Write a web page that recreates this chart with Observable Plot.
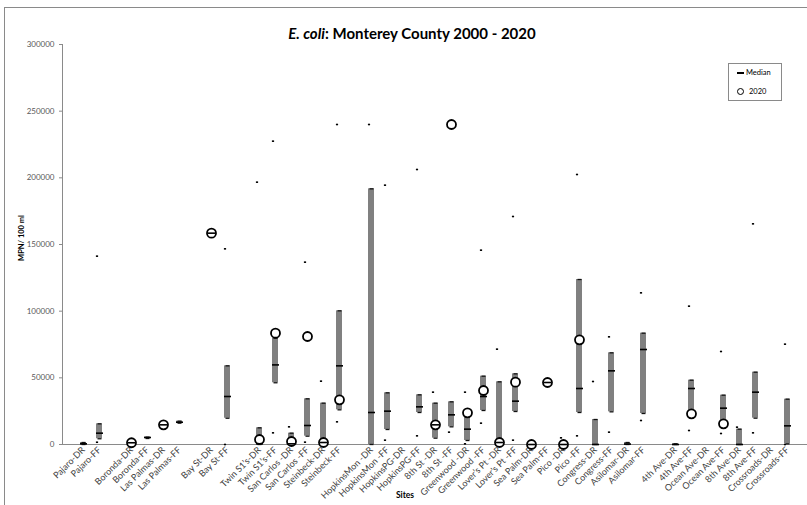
<!DOCTYPE html>
<html><head><meta charset="utf-8">
<script src="https://cdn.jsdelivr.net/npm/d3@7"></script>
<script src="https://cdn.jsdelivr.net/npm/@observablehq/plot@0.6"></script>
<style>
body{margin:0;background:#fff;overflow:hidden;font-family:Lato,"DejaVu Sans",sans-serif}
#wrap{position:relative;width:807px;height:505px;overflow:hidden}
#border{position:absolute;left:4px;top:7px;width:900px;height:600px;border:1px solid #8a8a8a;box-sizing:border-box}
#chart{position:absolute;left:0;top:0}
#title{position:absolute;top:24px;left:412px;transform:translateX(-50%);font-weight:bold;font-size:15px;white-space:nowrap;color:#000}
#ytitle{position:absolute;left:21px;top:238px;transform:translate(-50%,-50%) rotate(-90deg);font-weight:bold;font-size:7.5px;white-space:nowrap;color:#000}
#xtitle{position:absolute;left:405px;top:495px;transform:translate(-50%,-50%);font-weight:bold;font-size:8.5px;color:#000}
#legend{position:absolute;left:728px;top:63px;width:54px;height:38px;border:1px solid #8a8a8a;box-sizing:border-box;background:#fff;font-size:7.5px;color:#000}
#legend .row{position:absolute;left:0;height:10px;line-height:10px;white-space:nowrap}
#legend .dash{position:absolute;left:8px;top:4px;width:7px;height:2px;background:#000}
#legend .circ{position:absolute;left:8px;top:1px;width:5px;height:5px;border:1.6px solid #000;border-radius:50%;background:#fff}
#legend .lab{position:absolute;left:17px;top:0}
svg text{fill:#404040}
</style></head>
<body><div id="wrap">
<div id="border"></div>
<div id="chart"></div>
<div id="title"><i>E. coli</i>: Monterey County 2000 - 2020</div>
<div id="ytitle">MPN/ 100 ml</div>
<div id="xtitle">Sites</div>
<div id="legend">
  <div class="row" style="top:4px"><div class="dash"></div><div class="lab">Median</div></div>
  <div class="row" style="top:23px"><div class="circ"></div><div class="lab" style="left:20px">2020</div></div>
</div>
</div>
<script>
const sites = ["Pajaro-DR","Pajaro-FF","","Boronda-DR","Boronda-FF","Las Palmas-DR","Las Palmas-FF","","Bay St-DR","Bay St-FF","","Twin S1’s-DR","Twin S1’s-FF","San Carlos -DR","San Carlos -FF","Steinbeck-DR","Steinbeck-FF","","HopkinsMon -DR","HopkinsMon -FF","HopkinsPG-DR","HopkinsPG-FF","8th St -DR","8th St -FF","Greenwood -DR","Greenwood -FF","Lover’s Pt -DR","Lover’s Pt -FF","Sea Palm-DR","Sea Palm-FF","Pico -DR","Pico -FF","Congress-DR","Congress-FF","Asilomar-DR","Asilomar-FF","","4th Ave-DR","4th Ave-FF","Ocean Ave-DR","Ocean Ave-FF","8th Ave-DR","8th Ave-FF","Crossroads-DR","Crossroads-FF"];
const q1 = [0,4300,null,null,4500,null,16000,null,null,19700,null,0,46300,0,6250,0,26000,null,0,11250,null,24000,4750,13250,3000,25500,0,24750,null,null,null,24000,0,24500,0,23250,null,0,22500,null,16750,0,19750,null,500];
const q3 = [1500,15500,null,null,5500,null,17500,null,null,59000,null,12500,79700,8500,34250,31000,100250,null,191750,38750,null,37250,31000,32000,24000,51250,47000,53000,null,null,null,123750,18750,68750,1500,83500,null,500,48250,null,37000,11500,54250,null,34000];
const median = [500,8500,null,1300,5250,14750,16700,null,158500,36000,null,500,59700,500,14250,1500,59000,null,24000,25000,null,28250,14750,22250,11500,36000,1500,32500,0,46500,0,42000,0,55250,300,71250,null,0,42000,null,27250,0,39250,null,14000];
const low = [null,1700,null,null,null,null,null,null,null,0,null,null,8750,null,1750,null,17000,null,null,3250,null,6500,null,9250,500,16000,null,3250,null,null,null,6500,null,9250,null,18000,null,null,10500,null,8250,null,8750,null,0];
const high = [null,141250,null,null,null,null,null,null,null,146750,null,196750,227500,13250,136750,47500,240000,null,240000,194500,null,206250,39250,240000,39250,145750,71500,171000,null,null,5000,202500,47250,80750,null,113750,null,null,103750,null,69750,13000,165500,null,75250];
const y2020 = [null,null,null,1300,null,14750,null,null,158500,null,null,3750,83500,2250,81000,1500,33500,null,null,null,null,null,14750,240000,23750,40500,1500,46750,0,46500,0,78500,null,null,null,null,null,null,23000,null,15500,null,null,null,null];
const yTicks = [0,50000,100000,150000,200000,250000,300000];

const rows = sites.map((s,i)=>({i, q1:q1[i], q3:q3[i], med:median[i], lo:low[i], hi:high[i], c:y2020[i]}));
const hline = w => ({draw(ctx){ ctx.moveTo(-w/2,0); ctx.lineTo(w/2,0); }});
const hasBar = rows.filter(d=>d.q1!=null && d.q3!=null);

const chart = Plot.plot({
  width: 807, height: 505,
  marginLeft: 62, marginRight: 0, marginTop: 44, marginBottom: 61,
  style: {fontFamily: "Lato, sans-serif", fontSize: "8px", color: "#8a8a8a", background: "transparent", overflow: "visible"},
  x: {type: "band", domain: d3.range(sites.length), padding: 0, tickFormat: i => sites[i], tickRotate: -45, tickSize: 0, tickPadding: 4, label: null},
  y: {domain: [0, 300000], ticks: yTicks, tickFormat: d => String(d), tickSize: 3, tickPadding: 5, line: true, label: null},
  marks: [
    Plot.ruleY([0], {stroke: "#8a8a8a", strokeWidth: 1}),
    Plot.barY(hasBar, {x: "i", y1: "q1", y2: "q3", fill: "#808080", insetLeft: 5, insetRight: 5}),
    Plot.dot(hasBar, {x: "i", y: "q1", symbol: hline(4), r: 1, stroke: "#111", strokeWidth: 1.3, fill: "none"}),
    Plot.dot(hasBar, {x: "i", y: "q3", symbol: hline(4), r: 1, stroke: "#111", strokeWidth: 1.3, fill: "none"}),
    Plot.dot(rows.filter(d=>d.lo!=null), {x: "i", y: "lo", symbol: hline(2.2), r: 1, dx: -2.5, stroke: "#000", strokeWidth: 1.6, fill: "none"}),
    Plot.dot(rows.filter(d=>d.hi!=null), {x: "i", y: "hi", symbol: hline(2.2), r: 1, dx: -2.5, stroke: "#000", strokeWidth: 1.6, fill: "none"}),
    Plot.dot(rows.filter(d=>d.c!=null), {x: "i", y: "c", r: 4.5, stroke: "#000", strokeWidth: 1.8, fill: "#fff"}),
    Plot.dot(rows.filter(d=>d.med!=null), {x: "i", y: "med", symbol: hline(7), r: 1, stroke: "#000", strokeWidth: 1.6, fill: "none"})
  ]
});
document.getElementById("chart").appendChild(chart);
d3.select(chart).selectAll('[aria-label^="x-axis"] text').style("font-size", "9px").style("fill", "#404040");
d3.select(chart).selectAll('[aria-label^="y-axis"] text').style("font-size", "8px").style("fill", "#595959");
</script>
</body></html>
